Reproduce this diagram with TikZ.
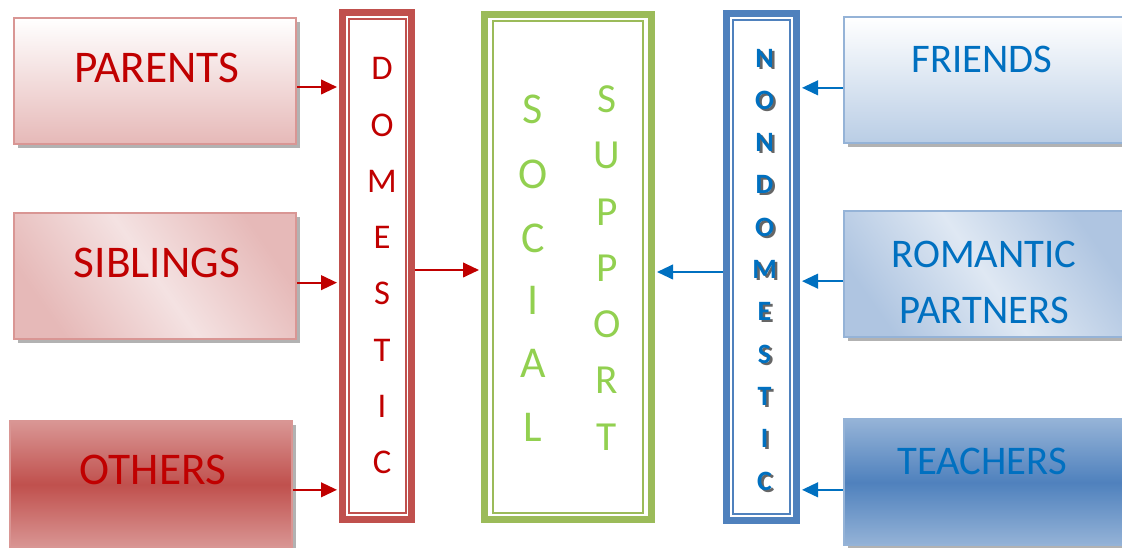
\documentclass[tikz,border=0pt]{standalone}
\usepackage{fontspec}
\setmainfont{Carlito}
\usetikzlibrary{shadows,arrows.meta,calc}
\definecolor{txtred}{HTML}{C00000}
\definecolor{frred}{HTML}{C0504D}
\definecolor{lnred}{HTML}{D99694}
\definecolor{pinkb}{HTML}{E6B9B8}
\definecolor{pinkl}{HTML}{F4E2E2}
\definecolor{txtblue}{HTML}{0070C0}
\definecolor{frblue}{HTML}{4F81BD}
\definecolor{lnblue}{HTML}{95B3D7}
\definecolor{blueb}{HTML}{B9CDE5}
\definecolor{bluem}{HTML}{AFC5E1}
\definecolor{bluel}{HTML}{DFE8F3}
\definecolor{frgreen}{HTML}{9BBB59}
\definecolor{txtgreen}{HTML}{92D050}
\newcommand\ndshad[1]{\makebox[0pt][l]{\kern1.9pt\raisebox{-1.5pt}{\textcolor{black!60}{#1}}}#1}
\begin{document}
\begin{tikzpicture}[x=0.75pt,y=-0.75pt,
  box/.style={rectangle, minimum width=211.5pt, minimum height=94.5pt, line width=1.5pt, inner sep=0pt,
    drop shadow={shadow xshift=3pt, shadow yshift=-3pt, fill=black, opacity=0.3}},
  lbox/.style={box, draw=lnred},
  rbox/.style={box, draw=lnblue},
  ltext/.style={font=\fontsize{34}{40}\selectfont, text=txtred, inner sep=0pt},
  rtext/.style={font=\fontsize{30.5}{42}\selectfont, text=txtblue, inner sep=0pt, align=center},
  frame/.style={rectangle, line width=5.25pt, inner sep=0pt},
  inframe/.style={line width=1.1pt},
  domletter/.style={font=\fontsize{26}{26}\selectfont, text=txtred, inner sep=0pt},
  socletter/.style={font=\fontsize{33}{33}\selectfont, text=txtgreen, inner sep=0pt},
  supletter/.style={font=\fontsize{31}{31}\selectfont, text=txtgreen, inner sep=0pt},
  ndletter/.style={font=\bfseries\fontsize{21}{21}\selectfont, text=txtblue, inner sep=0pt},
  redarr/.style={draw=txtred, line width=1.5pt, -{Triangle[length=12pt,width=11pt]}, shorten >=1.5pt},
  bluearr/.style={draw=txtblue, line width=1.5pt, -{Triangle[length=12pt,width=11pt]}, shorten >=1.5pt}
]
\useasboundingbox (0,0) rectangle (1122,548);
\clip (0,0) rectangle (1122,548);

% left boxes
\node[lbox, top color=white, bottom color=pinkb] (parents) at (155,81) {};
\node[lbox, left color=pinkb, right color=pinkb, middle color=pinkl, shading angle=125] (siblings) at (155,276) {};
\node[lbox, top color=lnred, bottom color=lnred, middle color=frred] (others) at (151,484.5) {};
\node[ltext] (tparents) at (157,68) {PARENTS};
\node[ltext] (tsiblings) at (157,263) {SIBLINGS};
\node[ltext] (tothers) at (153,470) {OTHERS};

% right boxes
\node[rbox, top color=white, bottom color=blueb] (friends) at (985,80.5) {};
\node[rbox, left color=bluem, right color=bluem, middle color=bluel, shading angle=125] (romantic) at (985,274.5) {};
\node[rbox, top color=lnblue, bottom color=lnblue, middle color=frblue] (teachers) at (985,482.5) {};
\node[rtext] (tfriends) at (982,59) {FRIENDS};
\node[rtext] (tromantic) at (984,282) {ROMANTIC\\PARTNERS};
\node[rtext] (tteachers) at (982,461) {TEACHERS};

% frames
\node[frame, draw=frred, minimum width=51.75pt, minimum height=380.25pt] (domestic) at (377,266) {};
\draw[inframe, draw=frred] ($(domestic.north west)+(10,10)$) rectangle ($(domestic.south east)+(-9,-10)$);
\node[frame, draw=frgreen, minimum width=125.25pt, minimum height=378.75pt] (social) at (568,267) {};
\draw[inframe, draw=frgreen] ($(social.north west)+(12,10)$) rectangle ($(social.south east)+(-12,-10)$);
\node[frame, draw=frblue, minimum width=52.5pt, minimum height=380.25pt] (nondomestic) at (761.5,267) {};
\draw[inframe, draw=frblue] ($(nondomestic.north west)+(10,10)$) rectangle ($(nondomestic.south east)+(-10,-10)$);

% letters
\foreach \l/\yy [count=\i] in {D/68,O/125,M/181,E/237,S/293,T/350,I/406,C/462}
  \node[domletter] (dom\i) at (382,\yy) {\l};
\foreach \l/\yy [count=\i] in {S/109,O/174,C/238,I/300,A/363,L/427}
  \node[socletter] (soc\i) at (533,\yy) {\l};
\foreach \l/\yy [count=\i] in {S/99,U/155,P/212,P/268,O/324,R/380,T/437}
  \node[supletter] (sup\i) at (607,\yy) {\l};
\foreach \l [count=\i] in {N,O,N,D,O,M,E,S,T,I,C} {
  \pgfmathsetmacro\yy{59+42.3*(\i-1)}
  \node[ndletter] (nd\i) at (764.5,\yy) {\ndshad{\l}};
}

% arrows
\coordinate (pa) at ([yshift=-4.5pt]parents.east);
\draw[redarr] (pa) -- (pa -| domestic.west);
\coordinate (sa) at ([yshift=-5pt]siblings.east);
\draw[redarr] (sa) -- (sa -| domestic.west);
\coordinate (oa) at ([yshift=-4pt]others.east);
\draw[redarr] (oa) -- (oa -| domestic.west);
\coordinate (da) at ([yshift=-3pt]domestic.east);
\draw[redarr] (da) -- (da -| social.west);

\coordinate (fa) at ([yshift=-5.5pt]friends.west);
\draw[bluearr] (fa) -- (fa -| nondomestic.east);
\coordinate (ra) at ([yshift=-5pt]romantic.west);
\draw[bluearr] (ra) -- (ra -| nondomestic.east);
\coordinate (ta) at ([yshift=-5.5pt]teachers.west);
\draw[bluearr] (ta) -- (ta -| nondomestic.east);
\coordinate (na) at ([yshift=-3.75pt]nondomestic.west);
\draw[bluearr] (na) -- (na -| social.east);
\end{tikzpicture}
\end{document}
